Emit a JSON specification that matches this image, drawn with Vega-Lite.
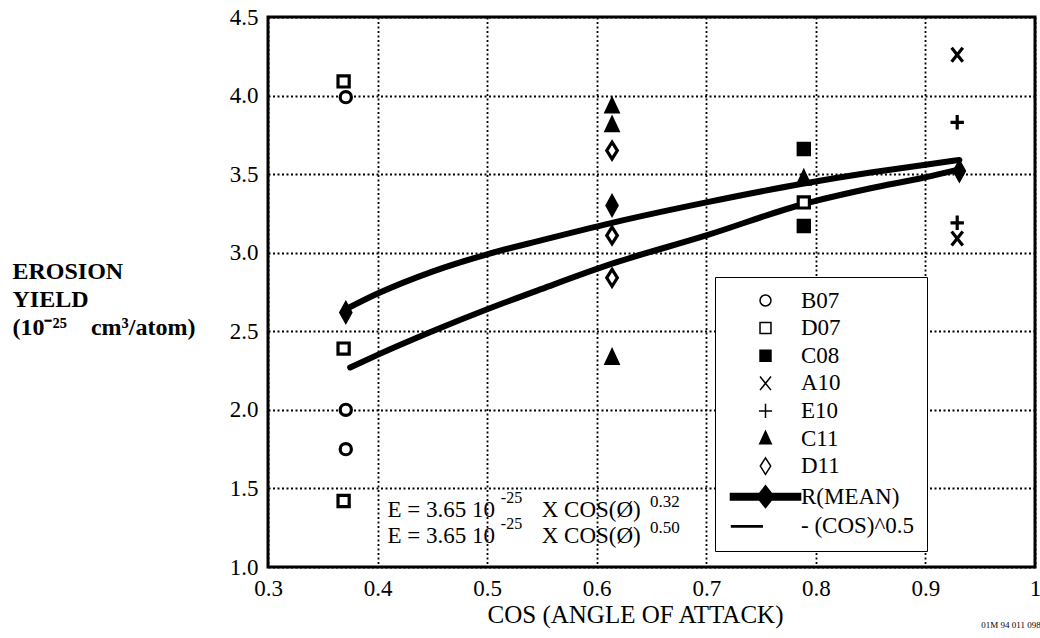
{
  "$schema": "https://vega.github.io/schema/vega-lite/v6.json",
  "width": 767,
  "height": 550,
  "autosize": {"type": "none"},
  "padding": {"left": 268, "top": 17, "right": 5, "bottom": 71},
  "background": "white",
  "title": {"text": "01M 94 011 098", "orient": "bottom", "anchor": "end", "fontSize": 9, "font": "Liberation Serif", "fontWeight": "normal", "color": "black", "offset": -6},
  "config": {
    "font": "Liberation Serif",
    "style": {"guide-label": {"font": "Times New Roman"}, "guide-title": {"font": "Liberation Serif"}},
    "view": {"stroke": "black", "strokeWidth": 3},
    "axis": {
      "labelFont": "Times New Roman", "labelFontSize": 23, "labelColor": "black", "labelFlush": false,
      "titleFont": "Liberation Serif", "titleColor": "black", "titleFontWeight": "normal",
      "domain": false, "ticks": false,
      "grid": true, "gridColor": "black", "gridDash": [2, 2.5], "gridWidth": 1.8, "gridOpacity": 1
    },
    "legend": {"labelFont": "Times New Roman"}
  },
  "datasets": {
    "points": [
      {"series": "B07", "cos": 0.371, "yield": 3.99},
      {"series": "B07", "cos": 0.371, "yield": 2.0},
      {"series": "B07", "cos": 0.371, "yield": 1.75},
      {"series": "D07", "cos": 0.369, "yield": 4.09},
      {"series": "D07", "cos": 0.369, "yield": 2.39},
      {"series": "D07", "cos": 0.369, "yield": 1.42},
      {"series": "D07", "cos": 0.789, "yield": 3.32},
      {"series": "C08", "cos": 0.789, "yield": 3.66},
      {"series": "C08", "cos": 0.789, "yield": 3.17},
      {"series": "A10", "cos": 0.929, "yield": 4.26},
      {"series": "A10", "cos": 0.929, "yield": 3.09},
      {"series": "E10", "cos": 0.929, "yield": 3.83},
      {"series": "E10", "cos": 0.929, "yield": 3.19},
      {"series": "C11", "cos": 0.614, "yield": 3.93},
      {"series": "C11", "cos": 0.614, "yield": 3.81},
      {"series": "C11", "cos": 0.614, "yield": 2.33},
      {"series": "C11", "cos": 0.789, "yield": 3.47},
      {"series": "D11", "cos": 0.614, "yield": 3.65},
      {"series": "D11", "cos": 0.614, "yield": 3.11},
      {"series": "D11", "cos": 0.614, "yield": 2.84},
      {"series": "R(MEAN)", "cos": 0.371, "yield": 2.62},
      {"series": "R(MEAN)", "cos": 0.614, "yield": 3.3},
      {"series": "R(MEAN)", "cos": 0.931, "yield": 3.52}
    ],
    "curves": [
      {"curve": "E032", "cos": 0.371, "yield": 2.64},
      {"curve": "E032", "cos": 0.40, "yield": 2.74},
      {"curve": "E032", "cos": 0.45, "yield": 2.88},
      {"curve": "E032", "cos": 0.50, "yield": 2.99},
      {"curve": "E032", "cos": 0.55, "yield": 3.08},
      {"curve": "E032", "cos": 0.614, "yield": 3.19},
      {"curve": "E032", "cos": 0.70, "yield": 3.32},
      {"curve": "E032", "cos": 0.789, "yield": 3.44},
      {"curve": "E032", "cos": 0.85, "yield": 3.51},
      {"curve": "E032", "cos": 0.90, "yield": 3.56},
      {"curve": "E032", "cos": 0.931, "yield": 3.59},
      {"curve": "E050", "cos": 0.375, "yield": 2.27},
      {"curve": "E050", "cos": 0.40, "yield": 2.35},
      {"curve": "E050", "cos": 0.45, "yield": 2.50},
      {"curve": "E050", "cos": 0.50, "yield": 2.64},
      {"curve": "E050", "cos": 0.55, "yield": 2.77},
      {"curve": "E050", "cos": 0.614, "yield": 2.93},
      {"curve": "E050", "cos": 0.70, "yield": 3.11},
      {"curve": "E050", "cos": 0.789, "yield": 3.31},
      {"curve": "E050", "cos": 0.85, "yield": 3.41},
      {"curve": "E050", "cos": 0.90, "yield": 3.48},
      {"curve": "E050", "cos": 0.931, "yield": 3.53}
    ]
  },
  "layer": [
    {
      "data": {"name": "curves"},
      "mark": {"type": "line", "color": "black", "strokeWidth": 6, "strokeCap": "round", "interpolate": "monotone"},
      "encoding": {
        "x": {"field": "cos", "type": "quantitative",
              "scale": {"domain": [0.3, 1.0], "nice": false, "zero": false},
              "axis": {"values": [0.3, 0.4, 0.5, 0.6, 0.7, 0.8, 0.9, 1.0],
                       "labelExpr": "datum.value == 1 ? '1' : format(datum.value, '.1f')",
                       "labelPadding": 10, "labelFont": "Times New Roman", "labelFontSize": 23,
                       "title": "COS (ANGLE OF ATTACK)", "titleFontSize": 25, "titleFont": "Liberation Serif",
                       "titleAnchor": "start", "titleAlign": "center", "titleX": 367, "titleY": 55, "titleBaseline": "alphabetic"}},
        "y": {"field": "yield", "type": "quantitative",
              "scale": {"domain": [1.0, 4.5], "nice": false, "zero": false},
              "axis": {"values": [1.0, 1.5, 2.0, 2.5, 3.0, 3.5, 4.0, 4.5], "format": ".1f",
                       "labelPadding": 10, "labelFont": "Times New Roman", "labelFontSize": 23,
                       "title": ["EROSION", "YIELD", "(10⁻²⁵\u00a0\u00a0\u00a0\u00a0cm³/atom)"], "titleFontSize": 24, "titleFontWeight": "bold", "titleFont": "Liberation Serif",
                       "titleAngle": 0, "titleAlign": "left", "titleBaseline": "alphabetic",
                       "titleX": -256, "titleY": 261, "titleLineHeight": 28}},
        "detail": {"field": "curve"}
      }
    },
    {
      "data": {"name": "points"},
      "transform": [{"filter": "datum.series !== 'R(MEAN)'"}],
      "mark": {"type": "point", "filled": true, "stroke": "black", "strokeWidth": 3.2, "size": 125, "opacity": 1},
      "encoding": {
        "x": {"field": "cos", "type": "quantitative"},
        "y": {"field": "yield", "type": "quantitative"},
        "shape": {"field": "series", "type": "nominal",
          "scale": {"domain": ["B07", "D07", "C08", "A10", "E10", "C11", "D11", "R(MEAN)", "(COS)^0.5"],
                    "range": ["circle", "square", "square",
                              "M-1,-1.25L1,1.25M1,-1.25L-1,1.25",
                              "M-1.2,0L1.2,0M0,-1.3L0,1.3",
                              "M0,-1.3L1.05,0.95L-1.05,0.95Z",
                              "M0,-1.5L0.95,0L0,1.5L-0.95,0Z",
                              "M-6.4,-0.6L-1.1,-0.6L0,-2L1.1,-0.6L6.4,-0.6L6.4,0.6L1.1,0.6L0,2L-1.1,0.6L-6.4,0.6Z",
                              "M-6.2,-0.12L-0.6,-0.12L-0.6,0.12L-6.2,0.12Z"]},
          "legend": {
            "title": null, "orient": "none", "legendX": 447, "legendY": 260,
            "fillColor": "white", "strokeColor": "black", "padding": 12,
            "symbolOffset": 27, "labelOffset": 24, "symbolSize": 120,
            "labelFont": "Times New Roman", "labelFontSize": 23, "labelColor": "black", "rowPadding": 3.6,
            "labelExpr": "datum.value === '(COS)^0.5' ? '- (COS)^0.5' : datum.value",
            "encode": {
              "legend": {"update": {"strokeWidth": {"value": 3}}},
              "labels": {"update": {"font": {"value": "Times New Roman"}}},
              "symbols": {"update": {
                "stroke": {"value": "black"},
                "strokeWidth": {"value": 3}
              }}
            }
          }},
        "fill": {"field": "series", "type": "nominal",
          "scale": {"domain": ["B07", "D07", "C08", "A10", "E10", "C11", "D11", "R(MEAN)", "(COS)^0.5"],
                    "range": ["white", "white", "black", "white", "white", "black", "white", "black", "black"]},
          "legend": {
            "title": null, "orient": "none", "legendX": 447, "legendY": 260,
            "fillColor": "white", "strokeColor": "black", "padding": 12,
            "symbolOffset": 27, "labelOffset": 24, "symbolSize": 120,
            "labelFont": "Times New Roman", "labelFontSize": 23, "labelColor": "black", "rowPadding": 3.6,
            "labelExpr": "datum.value === '(COS)^0.5' ? '- (COS)^0.5' : datum.value",
            "encode": {
              "legend": {"update": {"strokeWidth": {"value": 3}}},
              "labels": {"update": {"font": {"value": "Times New Roman"}}},
              "symbols": {"update": {
                "stroke": {"value": "black"},
                "strokeWidth": {"value": 3}
              }}
            }
          }}
      }
    },
    {
      "data": {"name": "points"},
      "transform": [{"filter": "datum.series === 'R(MEAN)'"}],
      "mark": {"type": "point", "filled": true, "fill": "black", "stroke": "black", "strokeWidth": 1.5, "size": 120, "opacity": 1,
               "shape": "M0,-2L1.1,0L0,2L-1.1,0Z"},
      "encoding": {
        "x": {"field": "cos", "type": "quantitative"},
        "y": {"field": "yield", "type": "quantitative"}
      }
    },
    {
      "data": {"values": [{}]},
      "mark": {"type": "text", "font": "Liberation Serif", "fontSize": 23, "color": "black", "align": "left", "baseline": "alphabetic", "lineHeight": 26},
      "encoding": {
        "x": {"datum": 0.409},
        "y": {"datum": 1.318},
        "text": {"value": ["E = 3.65 10", "E = 3.65 10"]}
      }
    },
    {
      "data": {"values": [{}]},
      "mark": {"type": "text", "font": "Liberation Serif", "fontSize": 16, "color": "black", "align": "left", "baseline": "alphabetic", "lineHeight": 26},
      "encoding": {
        "x": {"datum": 0.5125},
        "y": {"datum": 1.405},
        "text": {"value": ["-25", "-25"]}
      }
    },
    {
      "data": {"values": [{}]},
      "mark": {"type": "text", "font": "Liberation Serif", "fontSize": 23, "color": "black", "align": "left", "baseline": "alphabetic", "lineHeight": 26},
      "encoding": {
        "x": {"datum": 0.5498},
        "y": {"datum": 1.318},
        "text": {"value": ["X COS(Ø)", "X COS(Ø)"]}
      }
    },
    {
      "data": {"values": [{}]},
      "mark": {"type": "text", "font": "Liberation Serif", "fontSize": 17, "color": "black", "align": "left", "baseline": "alphabetic", "lineHeight": 26},
      "encoding": {
        "x": {"datum": 0.6486},
        "y": {"datum": 1.385},
        "text": {"value": ["0.32", "0.50"]}
      }
    }
  ]
}
